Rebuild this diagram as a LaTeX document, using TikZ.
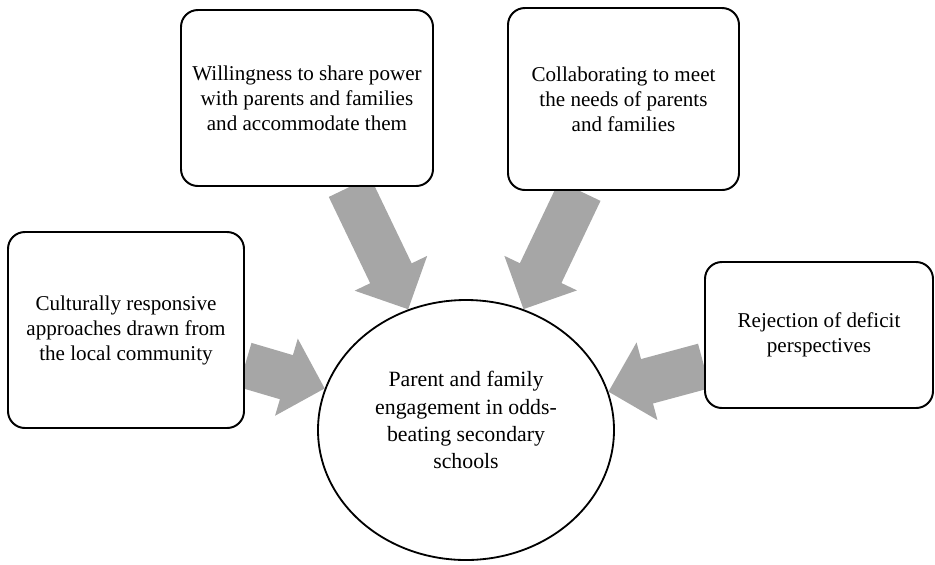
\documentclass[tikz,border=0pt]{standalone}
\usepackage{fontspec}
\setmainfont{Liberation Serif}
\usetikzlibrary{shapes.geometric, arrows.meta, positioning, backgrounds}
\definecolor{cArrow}{RGB}{166, 166, 166}
\tikzset{
    themeBox/.style={
        rectangle, rounded corners=12pt, draw=black, line width=1.4pt,
        fill=white, align=center,
        font=\fontsize{15}{17.8}\selectfont
    },
    hubNode/.style={
        ellipse, draw=black, line width=1.3pt, fill=white,
        minimum width=7.4cm, minimum height=6.5cm
    },
    hubText/.style={
        align=center, font=\fontsize{15.5}{19.3}\selectfont
    },
    blockArrow/.style={
        -{Triangle[length=1cm, width=1.95cm]},
        line width=1.15cm, draw=cArrow
    }
}

\begin{document}
\begin{tikzpicture}

	\useasboundingbox (0,0) rectangle (23.375,-14.1);

	% =========================================================
	% Central Theme
	% =========================================================

	\node [hubNode,
		label={[hubText, yshift=0.25cm]center:{Parent and family\\
		engagement in odds-\\
		beating secondary\\
		schools}}] (hub) at (11.65,-10.75) {};

	% =========================================================
	% Contributing Themes
	% =========================================================

	\node [themeBox, minimum width=5.9cm, minimum height=4.9cm] (community) at (3.15,-8.25) {
		Culturally responsive\\
		approaches drawn from\\
		the local community
	};

	\node [themeBox, minimum width=6.3cm, minimum height=4.4cm] (power) at (7.675,-2.45) {
		Willingness to share power\\
		with parents and families\\
		and accommodate them
	};

	\node [themeBox, minimum width=5.775cm, minimum height=4.55cm] (needs) at (15.5875,-2.475) {
		Collaborating to meet\\
		the needs of parents\\
		and families
	};

	\node [themeBox, minimum width=5.7cm, minimum height=3.65cm] (deficit) at (20.475,-8.375) {
		Rejection of deficit\\
		perspectives
	};

	% =========================================================
	% Arrows
	% =========================================================

	\begin{scope}[on background layer]
		\foreach \src in {community, power, needs, deficit} {
				\draw [blockArrow] (\src) -- (hub);
			}
	\end{scope}

\end{tikzpicture}
\end{document}
